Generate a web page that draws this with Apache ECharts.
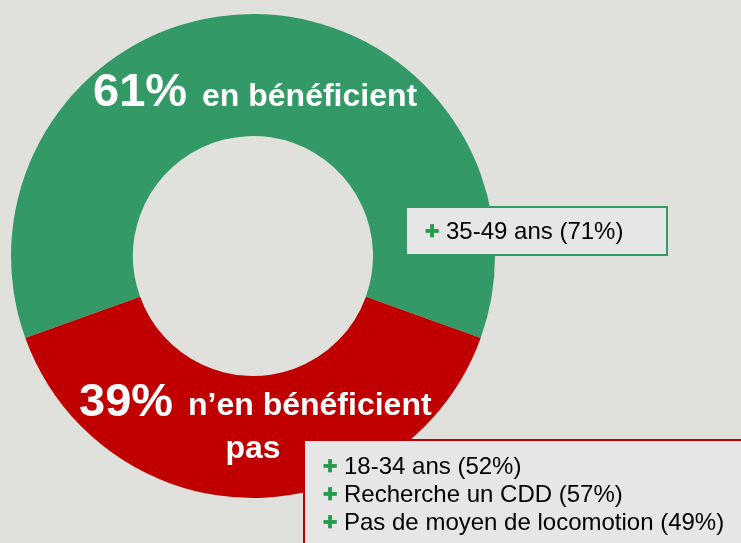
<!DOCTYPE html>
<html>
<head>
<meta charset="utf-8">
<script src="https://cdn.jsdelivr.net/npm/echarts@6/dist/echarts.min.js"></script>
<style>
  html, body { margin: 0; padding: 0; background: #e0e0dc; }
  #chart { width: 741px; height: 543px; }
</style>
</head>
<body>
<div id="chart"></div>
<script>
  // parts of the donut
  var categories = ['en bénéficient', 'n’en bénéficient'];
  var shares = [61, 39];
  // boxed notes next to each part
  var greenNotes = ['35-49 ans (71%)'];
  var redNotes = ['18-34 ans (52%)', 'Recherche un CDD (57%)', 'Pas de moyen de locomotion (49%)'];

  var chart = echarts.init(document.getElementById('chart'));

  var bold = 'bold ';
  var fam = 'Liberation Sans, Arial, sans-serif';

  function noteLines(list, x, y0, step) {
    var out = [];
    list.forEach(function (t, i) {
      out.push({
        type: 'text', x: x, y: y0 + i * step + 1, z: 10,
        style: { text: '✚', font: '17px DejaVu Sans', fill: '#1f9e4a', stroke: '#17663a', lineWidth: 0.5,
                 textAlign: 'center', textVerticalAlign: 'middle' }
      });
      out.push({
        type: 'text', x: x + 14, y: y0 + i * step, z: 10,
        style: { text: t, font: '24px ' + fam, fill: '#000', textAlign: 'left', textVerticalAlign: 'middle' }
      });
    });
    return out;
  }

  var graphic = [
    // titles on the donut
    { type: 'text', x: 93, y: 93, z: 10,
      style: { text: shares[0] + '%', font: bold + '47px ' + fam, fill: '#fff', textAlign: 'left', textVerticalAlign: 'middle' } },
    { type: 'text', x: 202, y: 97, z: 10,
      style: { text: categories[0], font: bold + '32px ' + fam, fill: '#fff', textAlign: 'left', textVerticalAlign: 'middle' } },
    { type: 'text', x: 79, y: 403, z: 10,
      style: { text: shares[1] + '%', font: bold + '47px ' + fam, fill: '#fff', textAlign: 'left', textVerticalAlign: 'middle' } },
    { type: 'text', x: 188, y: 406, z: 10,
      style: { text: categories[1], font: bold + '32px ' + fam, fill: '#fff', textAlign: 'left', textVerticalAlign: 'middle' } },
    { type: 'text', x: 253, y: 449, z: 10,
      style: { text: 'pas', font: bold + '32px ' + fam, fill: '#fff', textAlign: 'center', textVerticalAlign: 'middle' } },
    // note boxes
    { type: 'rect', z: 5, shape: { x: 406, y: 207, width: 261, height: 48 },
      style: { fill: '#e6e6e6', stroke: '#339966', lineWidth: 2 } },
    { type: 'rect', z: 5, shape: { x: 304, y: 440, width: 460, height: 120 },
      style: { fill: '#e6e6e6', stroke: '#c00000', lineWidth: 2 } }
  ].concat(noteLines(greenNotes, 432, 232, 28)).concat(noteLines(redNotes, 330, 467, 28));

  var option = {
    backgroundColor: '#e0e0dc',
    animation: false,
    graphic: graphic,
    series: [{
      type: 'pie',
      center: [253, 256],
      radius: [120, 242],
      // green part centred on top
      startAngle: 90 + shares[0] / 100 * 180,
      clockwise: true,
      silent: true,
      label: { show: false },
      labelLine: { show: false },
      itemStyle: { borderWidth: 0 },
      data: [
        { value: shares[0], name: categories[0], itemStyle: { color: '#339966' } },
        { value: shares[1], name: categories[1], itemStyle: { color: '#c00000' } }
      ]
    }]
  };
  chart.setOption(option);
</script>
</body>
</html>
